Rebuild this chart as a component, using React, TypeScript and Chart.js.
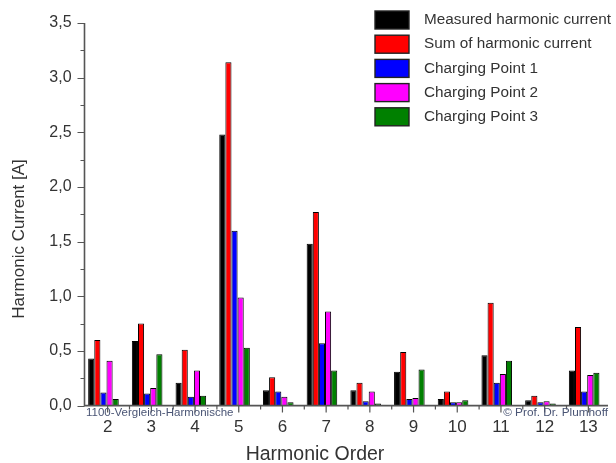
import React, { useEffect, useRef } from "react";
import { Chart, registerables } from "chart.js";

Chart.register(...registerables);

const categories = ["2", "3", "4", "5", "6", "7", "8", "9", "10", "11", "12", "13"];
const measured = [0.43, 0.59, 0.21, 2.48, 0.14, 1.48, 0.14, 0.31, 0.06, 0.46, 0.05, 0.32];
const sumHarmonic = [0.6, 0.75, 0.51, 3.14, 0.26, 1.77, 0.21, 0.49, 0.13, 0.94, 0.09, 0.72];
const cp1 = [0.12, 0.11, 0.08, 1.6, 0.13, 0.57, 0.04, 0.06, 0.03, 0.21, 0.03, 0.13];
const cp2 = [0.41, 0.16, 0.32, 0.99, 0.08, 0.86, 0.13, 0.07, 0.03, 0.29, 0.04, 0.28];
const cp3 = [0.06, 0.47, 0.09, 0.53, 0.03, 0.32, 0.02, 0.33, 0.05, 0.41, 0.02, 0.3];
const seriesLabels = [
  "Measured harmonic current",
  "Sum of harmonic current",
  "Charging Point 1",
  "Charging Point 2",
  "Charging Point 3",
];
const seriesColors = ["#000000", "#ff0000", "#0000ff", "#ff00ff", "#008000"];
const yTickValues = [0, 0.25, 0.5, 0.75, 1, 1.25, 1.5, 1.75, 2, 2.25, 2.5, 2.75, 3, 3.25, 3.5];

const FONT = "'Liberation Sans', Arial, sans-serif";
const LABEL_SHIFT = 4.2;
const AXIS_X = 84.5;

const decorPlugin = {
  id: "decor",
  afterDatasetsDraw(chart: any) {
    const ctx = chart.ctx;
    const xs = chart.scales.x;
    const ys = chart.scales.y;
    const bottom = ys.getPixelForValue(0);
    const top = ys.getPixelForValue(3.5);
    ctx.save();
    ctx.strokeStyle = "#555";
    ctx.lineWidth = 1.6;
    // axis lines
    ctx.beginPath();
    ctx.moveTo(AXIS_X, top);
    ctx.lineTo(AXIS_X, bottom + 0.8);
    ctx.moveTo(AXIS_X - 0.8, bottom);
    ctx.lineTo(608, bottom);
    ctx.stroke();
    // y ticks
    ctx.lineWidth = 1.2;
    ctx.beginPath();
    yTickValues.forEach((v) => {
      const py = Math.round(ys.getPixelForValue(v)) + 0.5;
      const major = Math.abs(v * 2 - Math.round(v * 2)) < 1e-6;
      ctx.moveTo(AXIS_X, py);
      ctx.lineTo(AXIS_X - (major ? 7 : 4), py);
    });
    // x ticks
    const n = categories.length;
    const cw = (xs.right - xs.left) / n;
    for (let i = 0; i < n; i++) {
      const cx = xs.getPixelForValue(i) + LABEL_SHIFT;
      ctx.moveTo(cx, bottom);
      ctx.lineTo(cx, bottom + 7);
      if (i > 0) {
        const bx = cx - cw / 2;
        ctx.moveTo(bx, bottom);
        ctx.lineTo(bx, bottom + 4);
      }
    }
    ctx.stroke();

    // watermarks
    ctx.fillStyle = "#4a5575";
    ctx.textBaseline = "middle";
    ctx.font = `11.5px ${FONT}`;
    ctx.textAlign = "left";
    ctx.fillText("1100-Vergleich-Harmonische", 86, 413);
    ctx.font = `11.8px ${FONT}`;
    ctx.textAlign = "right";
    ctx.fillText("\u00a9 Prof. Dr. Plumhoff", 608, 413);

    // axis titles
    ctx.fillStyle = "#333";
    ctx.font = `17px ${FONT}`;
    ctx.textAlign = "center";
    ctx.save();
    ctx.translate(19, 239);
    ctx.rotate(-Math.PI / 2);
    ctx.fillText("Harmonic Current [A]", 0, 0);
    ctx.restore();
    ctx.font = `19.5px ${FONT}`;
    ctx.fillText("Harmonic Order", 315, 455);

    // legend
    const ds = chart.data.datasets;
    ctx.font = `15.3px ${FONT}`;
    ctx.textAlign = "left";
    ds.forEach((d: any, i: number) => {
      const cy = 20 + i * 24.2;
      ctx.fillStyle = d.backgroundColor;
      ctx.fillRect(375, cy - 9, 34, 18);
      ctx.strokeStyle = "#222";
      ctx.lineWidth = 1.4;
      ctx.strokeRect(375, cy - 9, 34, 18);
      ctx.fillStyle = "#333";
      ctx.fillText(d.label, 424, cy);
    });
    ctx.restore();
  },
};

export default function App() {
  const ref = useRef<HTMLCanvasElement | null>(null);
  useEffect(() => {
    document.body.style.margin = "0";
    const seriesData = [measured, sumHarmonic, cp1, cp2, cp3];
    const chart = new Chart(ref.current as HTMLCanvasElement, {
      type: "bar",
      data: {
        labels: categories,
        datasets: seriesData.map((d, i) => ({
          label: seriesLabels[i],
          data: d,
          backgroundColor: seriesColors[i],
          borderColor: "#000",
          borderWidth: 1,
          categoryPercentage: 0.7,
          barPercentage: 1.0,
        })),
      },
      options: {
        responsive: false,
        animation: false,
        layout: { padding: { top: 23, right: 10, left: 0, bottom: 0 } },
        plugins: { legend: { display: false }, tooltip: { enabled: false } },
        scales: {
          x: {
            grid: { display: false, drawTicks: false },
            border: { display: false },
            ticks: {
              color: "#333",
              font: { family: FONT, size: 17 },
              labelOffset: LABEL_SHIFT,
              padding: 12,
              maxRotation: 0,
              autoSkip: false,
            },
            afterFit: (s: any) => {
              s.height = 57.4;
            },
          },
          y: {
            min: 0,
            max: 3.5,
            grid: { display: false, drawTicks: false },
            border: { display: false },
            ticks: {
              stepSize: 0.5,
              color: "#333",
              font: { family: FONT, size: 16 },
              padding: 10,
              callback: (v: any) => Number(v).toFixed(1).replace(".", ","),
            },
            afterFit: (s: any) => {
              s.width = 81.6;
            },
          },
        },
      },
      plugins: [decorPlugin],
    });
    return () => chart.destroy();
  }, []);
  return (
    <div style={{ width: 616, height: 463, background: "#fff" }}>
      <canvas ref={ref} width={616} height={463} />
    </div>
  );
}
